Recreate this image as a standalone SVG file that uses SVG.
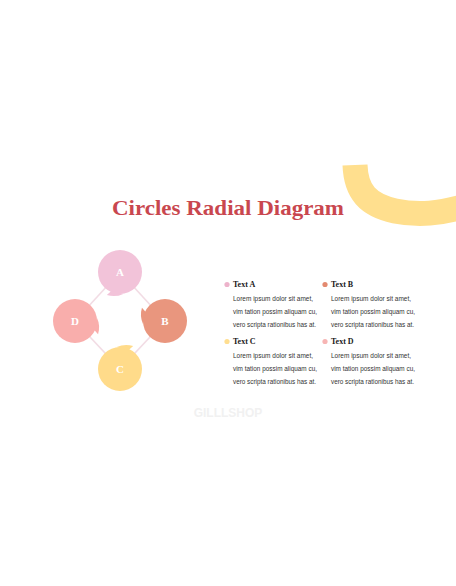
<svg xmlns="http://www.w3.org/2000/svg" width="456" height="586" viewBox="0 0 456 586">
<style>
.title{font-family:"Liberation Serif","DejaVu Serif",serif;font-weight:bold;font-size:21px;fill:#C9474F}
.lbl{font-family:"Liberation Serif","DejaVu Serif",serif;font-weight:bold;font-size:11px;fill:#FFFFFF}
.hd{font-family:"Liberation Serif","DejaVu Serif",serif;font-weight:bold;font-size:8px;fill:#1A1A1A}
.bd{font-family:"Liberation Sans","Noto Sans",sans-serif;font-size:6.3px;fill:#333333}
.conn{stroke:#F2DCE4;stroke-width:1.6;fill:none}
.wm{font-family:"Liberation Sans","DejaVu Sans",sans-serif;font-weight:bold;font-size:12px;fill:#F1F1F1}
</style>
<rect width="456" height="586" fill="#FFFFFF"/>
<path id="brush" d="M355 165 C356 192 368 205 395 211 C420 216 440 213 462 207" stroke="#FFDF8E" stroke-width="25" fill="none" stroke-linecap="butt"/>
<text id="title" class="title" x="228" y="215" text-anchor="middle" textLength="232" lengthAdjust="spacingAndGlyphs">Circles Radial Diagram</text>
<g id="connectors">
<line class="conn" x1="120" y1="272" x2="165" y2="321"/>
<line class="conn" x1="165" y1="321" x2="120" y2="369"/>
<line class="conn" x1="120" y1="369" x2="75" y2="321"/>
<line class="conn" x1="75" y1="321" x2="120" y2="272"/>
</g>
<g id="nodeA">
<circle cx="120" cy="272" r="22" fill="#F2C3D9"/>
<path d="M141 265 Q146 272 145 281 L140 277 Z" fill="#F2C3D9" transform="rotate(100 120 272)"/>
<text class="lbl" x="120" y="276" text-anchor="middle">A</text>
</g>
<g id="nodeB">
<circle cx="165" cy="321" r="22" fill="#E9967E"/>
<path d="M186 314 Q191 321 190 330 L185 326 Z" fill="#E9967E" transform="rotate(190 165 321)"/>
<text class="lbl" x="165" y="325" text-anchor="middle">B</text>
</g>
<g id="nodeC">
<circle cx="120" cy="369" r="22" fill="#FFDB8A"/>
<path d="M141 362 Q146 369 145 378 L140 374 Z" fill="#FFDB8A" transform="rotate(280 120 369)"/>
<text class="lbl" x="120" y="373" text-anchor="middle">C</text>
</g>
<g id="nodeD">
<circle cx="75" cy="321" r="22" fill="#F9AEAC"/>
<path d="M96 314 Q101 321 100 330 L95 326 Z" fill="#F9AEAC" transform="rotate(10 75 321)"/>
<text class="lbl" x="75" y="325" text-anchor="middle">D</text>
</g>
<g id="textA">
<circle cx="227" cy="284.5" r="2.6" fill="#EDB3CB"/>
<text class="hd" x="233" y="287">Text A</text>
<text class="bd" x="233" y="301" textLength="80" lengthAdjust="spacingAndGlyphs">Lorem ipsum dolor sit amet,</text>
<text class="bd" x="233" y="314" textLength="84" lengthAdjust="spacingAndGlyphs">vim tation possim aliquam cu,</text>
<text class="bd" x="233" y="327" textLength="83" lengthAdjust="spacingAndGlyphs">vero scripta rationibus has at.</text>
</g>
<g id="textB">
<circle cx="325" cy="284.5" r="2.6" fill="#E38A70"/>
<text class="hd" x="331" y="287">Text B</text>
<text class="bd" x="331" y="301" textLength="80" lengthAdjust="spacingAndGlyphs">Lorem ipsum dolor sit amet,</text>
<text class="bd" x="331" y="314" textLength="84" lengthAdjust="spacingAndGlyphs">vim tation possim aliquam cu,</text>
<text class="bd" x="331" y="327" textLength="83" lengthAdjust="spacingAndGlyphs">vero scripta rationibus has at.</text>
</g>
<g id="textC">
<circle cx="227" cy="341.5" r="2.6" fill="#FFDE90"/>
<text class="hd" x="233" y="344">Text C</text>
<text class="bd" x="233" y="358" textLength="80" lengthAdjust="spacingAndGlyphs">Lorem ipsum dolor sit amet,</text>
<text class="bd" x="233" y="371" textLength="84" lengthAdjust="spacingAndGlyphs">vim tation possim aliquam cu,</text>
<text class="bd" x="233" y="384" textLength="83" lengthAdjust="spacingAndGlyphs">vero scripta rationibus has at.</text>
</g>
<g id="textD">
<circle cx="325" cy="341.5" r="2.6" fill="#F7B5B4"/>
<text class="hd" x="331" y="344">Text D</text>
<text class="bd" x="331" y="358" textLength="80" lengthAdjust="spacingAndGlyphs">Lorem ipsum dolor sit amet,</text>
<text class="bd" x="331" y="371" textLength="84" lengthAdjust="spacingAndGlyphs">vim tation possim aliquam cu,</text>
<text class="bd" x="331" y="384" textLength="83" lengthAdjust="spacingAndGlyphs">vero scripta rationibus has at.</text>
</g>
<text id="watermark" class="wm" x="228" y="417" text-anchor="middle">GILLLSHOP</text>
</svg>
